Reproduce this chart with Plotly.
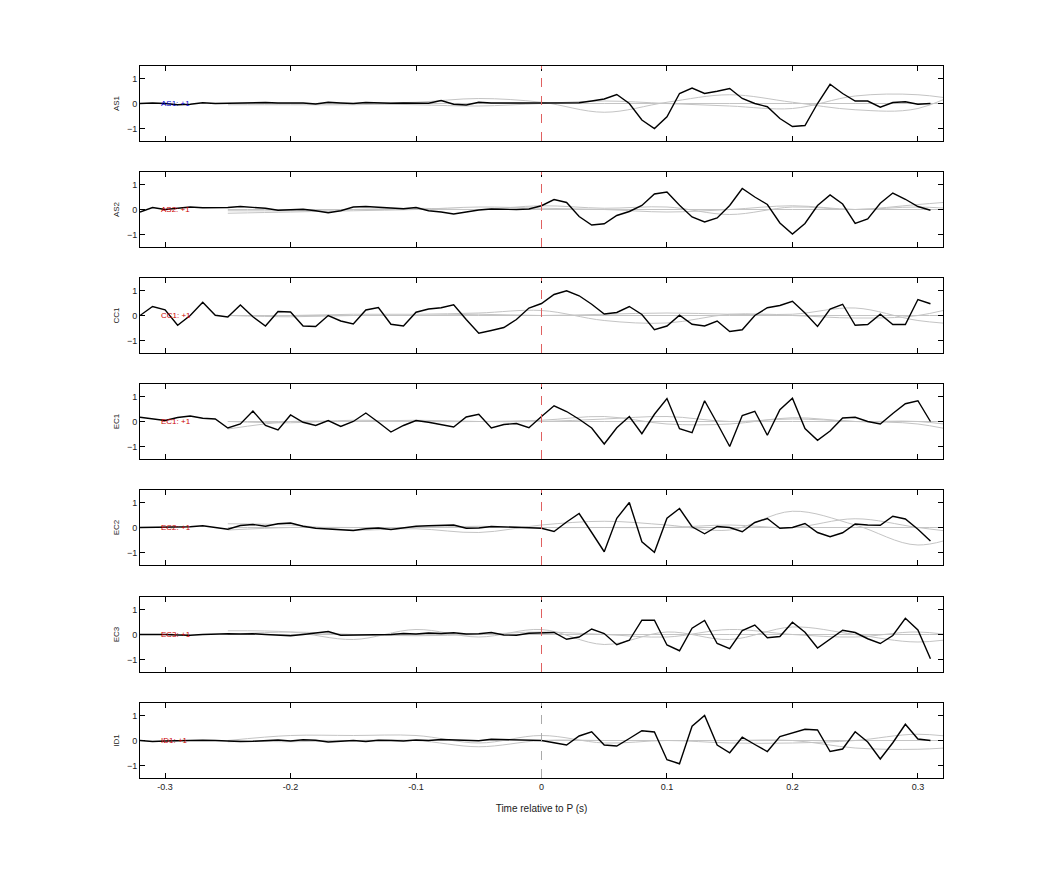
import plotly.graph_objects as go

t = [round(-0.32 + 0.01 * i, 2) for i in range(64)]
stations = ["AS1", "AS2", "CC1", "EC1", "EC2", "EC3", "ID1"]
label_colors = ["#0000cc", "#cc0000", "#cc0000", "#cc0000", "#cc0000", "#cc0000", "#cc0000"]

as1 = [0, 0.02, 0, -0.05, -0.03, 0.03, 0, 0.01, 0.03, 0.02, 0.04, 0.02, 0.03, 0.02, -0.02, 0.05, 0.02, 0.0, 0.04, 0.02,
       0.01, 0.02, 0.0, 0.01, 0.12, -0.03, -0.06, 0.05, 0.02, 0.01, 0.0, 0.02,
       0.02, 0.02, 0.03, 0.03, 0.1, 0.18, 0.36, 0.0, -0.66, -1.0, -0.53, 0.4, 0.62, 0.4, 0.49, 0.6, 0.2, 0.0, -0.13, -0.6,
       -0.92, -0.88, 0.0, 0.77, 0.4, 0.1, 0.1, -0.15, 0.04, 0.07, -0.03, 0.0][:64]
as2 = [-0.1, 0.08, 0.0, 0.05, 0.1, 0.07, 0.06, 0.08, 0.12, 0.1, 0.05, -0.03, 0.0, 0.01, -0.05, -0.13, -0.05, 0.1, 0.12,
       0.08, 0.05, 0.03, 0.08, -0.05, -0.1, -0.18, -0.1, -0.02, 0.02, 0.0, 0.0, 0.02,
       0.15, 0.4, 0.28, -0.28, -0.62, -0.57, -0.24, -0.08, 0.16, 0.62, 0.7, 0.17, -0.3, -0.5, -0.34, 0.16, 0.84, 0.5, 0.2,
       -0.54, -0.98, -0.56, 0.16, 0.58, 0.22, -0.56, -0.38, 0.25, 0.66, 0.41, 0.12, -0.03]
cc1 = [0.0, 0.36, 0.23, -0.39, 0.0, 0.53, 0.01, -0.06, 0.42, -0.05, -0.42, 0.16, 0.14, -0.42, -0.44, 0.0, -0.22, -0.34,
       0.22, 0.32, -0.35, -0.42, 0.13, 0.26, 0.31, 0.43, -0.16, -0.71, -0.6, -0.48, -0.16, 0.3,
       0.48, 0.84, 0.99, 0.79, 0.45, 0.06, 0.12, 0.36, 0.04, -0.57, -0.42, 0.01, -0.35, -0.42, -0.22, -0.64, -0.57, 0.0,
       0.31, 0.4, 0.57, 0.1, -0.44, 0.26, 0.45, -0.39, -0.36, 0.05, -0.36, -0.36, 0.64, 0.47]
ec1 = [0.17, 0.1, 0.04, 0.16, 0.22, 0.13, 0.1, -0.26, -0.1, 0.42, -0.16, -0.34, 0.26, -0.03, -0.16, 0.04, -0.2, 0.0,
       0.34, -0.03, -0.42, -0.16, 0.04, -0.03, -0.12, -0.22, 0.18, 0.29, -0.26, -0.12, -0.08, -0.25,
       0.2, 0.63, 0.4, 0.09, -0.26, -0.9, -0.25, 0.2, -0.49, 0.29, 0.92, -0.29, -0.45, 0.83, -0.07, -1.0, 0.24, 0.41, -0.55,
       0.47, 0.93, -0.28, -0.75, -0.38, 0.14, 0.17, 0.0, -0.1, 0.32, 0.71, 0.83, 0.0]
ec2 = [0.0, 0.0, 0.01, 0.0, 0.03, 0.07, 0.0, -0.07, 0.08, 0.12, 0.05, 0.15, 0.18, 0.05, -0.03, -0.05, -0.08, -0.12,
       -0.05, -0.02, -0.08, 0.0, 0.05, 0.07, 0.1, 0.1, -0.03, -0.02, 0.04, 0.03, 0.0, -0.01,
       -0.03, -0.16, 0.22, 0.56, -0.2, -0.97, 0.37, 1.0, -0.57, -0.99, 0.37, 0.76, 0.03, -0.25, 0.04, 0.0, -0.17, 0.2, 0.36,
       -0.03, 0.0, 0.16, -0.2, -0.37, -0.21, 0.14, 0.1, 0.09, 0.45, 0.34, -0.07, -0.54]
ec3 = [0.0, 0.01, 0.0, -0.02, -0.03, 0.0, 0.02, 0.03, 0.02, 0.03, 0.0, -0.04, -0.05, 0.0, 0.06, 0.12, -0.03, -0.02,
       0.0, 0.02, 0.0, 0.04, 0.02, 0.06, 0.04, 0.07, 0.02, 0.03, 0.08, -0.02, -0.03, 0.05,
       0.08, 0.08, -0.19, -0.1, 0.22, 0.04, -0.41, -0.23, 0.57, 0.57, -0.42, -0.65, 0.25, 0.56, -0.36, -0.57, 0.16, 0.38,
       -0.13, -0.08, 0.49, 0.09, -0.54, -0.18, 0.17, 0.08, -0.17, -0.36, -0.04, 0.65, 0.18, -0.97]
id1 = [0.0, -0.04, -0.02, 0.0, -0.01, 0.01, 0.0, -0.03, -0.04, -0.03, 0.0, 0.02, -0.02, 0.03, 0.01, -0.06, -0.03, 0.0,
       -0.04, 0.01, 0.0, -0.02, 0.02, 0.0, 0.04, 0.03, 0.0, -0.01, 0.05, 0.03, 0.02, 0.01,
       0.0, -0.09, -0.18, 0.18, 0.35, -0.18, -0.22, 0.08, 0.39, 0.34, -0.77, -0.93, 0.57, 1.0, -0.18, -0.49, 0.13, -0.16,
       -0.44, 0.16, 0.29, 0.45, 0.42, -0.44, -0.34, 0.35, -0.06, -0.74, -0.09, 0.65, 0.06, 0.0]
black = [as1, as2, cc1, ec1, ec2, ec3, id1]

# gray reference traces, coarse readings every 0.05 s (drawn smoothed)
tg = [-0.25, -0.2, -0.15, -0.1, -0.05, 0.0, 0.05, 0.1, 0.15, 0.2, 0.25, 0.3, 0.35]
gray = [
    [[0, 0, 0, 0.05, 0.2, 0.05, -0.35, 0.05, 0.35, 0.05, -0.25, -0.2, 0.9],
     [0, 0, 0, -0.05, -0.1, 0.0, 0.1, 0.0, -0.1, -0.2, 0.3, 0.35, 0.0],
     [-0.05, -0.05, -0.05, 0.0, 0.0, 0.0, 0.0, 0.0, 0.0, 0.0, 0.0, 0.0, 0.0]],
    [[-0.05, -0.05, 0.0, 0.05, 0.0, 0.15, 0.05, 0.1, -0.2, 0.1, 0.0, 0.2, 0.4],
     [-0.15, -0.1, -0.05, 0.0, 0.1, 0.05, 0.0, -0.1, 0.0, 0.15, 0.0, 0.1, -0.05],
     [0.0, 0.0, 0.0, 0.0, 0.0, 0.0, 0.0, 0.0, 0.0, 0.0, 0.0, 0.0, 0.0]],
    [[0, 0, 0.05, 0.05, 0.1, 0.2, -0.2, -0.3, 0.05, 0.05, 0.3, -0.2, -0.4],
     [0, -0.05, 0.0, 0.0, 0.05, 0.0, 0.05, 0.1, 0.05, 0.0, -0.1, 0.0, 0.6],
     [0.0, 0.0, 0.0, 0.0, 0.0, 0.0, 0.0, 0.0, 0.0, 0.0, 0.0, 0.0, 0.0]],
    [[-0.3, 0.0, 0.0, 0.05, 0.0, 0.0, 0.1, 0.2, 0.0, 0.1, 0.0, -0.1, -0.6],
     [0.0, -0.05, 0.05, 0.0, 0.0, 0.05, 0.2, -0.1, -0.1, 0.15, 0.0, 0.0, -0.3],
     [0.0, 0.0, 0.0, 0.0, 0.0, 0.0, 0.0, 0.0, 0.0, 0.0, 0.0, 0.0, 0.0]],
    [[0.15, 0.1, -0.1, -0.05, -0.2, 0.1, 0.25, 0.1, -0.1, 0.65, 0.1, -0.7, 0.0],
     [-0.1, 0.0, 0.0, 0.0, 0.05, 0.0, 0.0, 0.0, 0.1, 0.0, 0.35, 0.0, -0.3],
     [0.0, 0.0, 0.0, 0.0, 0.0, 0.0, 0.0, 0.0, 0.0, 0.0, 0.0, 0.0, 0.0]],
    [[0.15, 0.1, -0.2, 0.2, -0.1, 0.2, -0.4, 0.1, -0.2, 0.3, 0.0, -0.3, 0.0],
     [0.0, 0.1, 0.0, -0.05, 0.0, 0.1, 0.0, -0.1, 0.2, 0.0, -0.1, 0.1, -0.2],
     [0.0, 0.0, 0.0, 0.0, 0.0, 0.0, 0.0, 0.0, 0.0, 0.0, 0.0, 0.0, 0.0]],
    [[0.0, 0.2, 0.2, 0.2, -0.1, 0.2, -0.1, 0.0, -0.1, -0.1, 0.0, 0.25, 0.0],
     [0.0, -0.05, 0.0, 0.0, -0.25, 0.0, 0.0, 0.0, 0.0, 0.0, -0.3, -0.35, -0.2],
     [-0.05, 0.0, 0.0, 0.0, 0.0, 0.0, 0.0, 0.0, 0.0, 0.0, 0.0, 0.0, 0.0]],
]

W, H = 1026, 859   # page body margin of 8px offsets the figure
off = 8
tops = [66, 172, 278, 384, 490, 597, 703]
ph = 75

fig = go.Figure()
for i, st in enumerate(stations):
    ax = "" if i == 0 else str(i + 1)
    xa, ya = "x" + ax, "y" + ax
    for g in gray[i]:
        fig.add_trace(go.Scatter(x=tg, y=g, mode="lines", line=dict(color="#c4c4c4", width=1, shape="spline"),
                                 xaxis=xa, yaxis=ya, hoverinfo="skip", showlegend=False))
    fig.add_trace(go.Scatter(x=t, y=black[i], mode="lines", line=dict(color="black", width=1.4),
                             xaxis=xa, yaxis=ya, showlegend=False))
    fig.add_shape(type="line", x0=0, x1=0, y0=-1.5, y1=1.5, xref=xa, yref=ya,
                  line=dict(color="#e06060" if i < 6 else "#aaaaaa", width=1, dash="dash"))
    fig.add_annotation(x=-0.305, y=0, xref=xa, yref=ya, text=f"{st}: +1", showarrow=False,
                       xanchor="left", font=dict(size=8, color=label_colors[i]))
    d0 = 1 - (tops[i] - off + ph) / H
    d1 = 1 - (tops[i] - off) / H
    axis_common = dict(showline=True, linecolor="black", linewidth=1, mirror="allticks", ticks="inside",
                       ticklen=5, tickcolor="black", showgrid=False, zeroline=False,
                       tickfont=dict(size=9, color="#222"))
    fig.layout["xaxis" + ax] = dict(axis_common, domain=[(140 - off) / W, (943 - off) / W], range=[-0.32, 0.32],
                                    tickvals=[-0.3, -0.2, -0.1, 0, 0.1, 0.2, 0.3],
                                    ticktext=["-0.3", "-0.2", "-0.1", "0", "0.1", "0.2", "0.3"],
                                    showticklabels=(i == 6), anchor=ya,
                                    title=dict(text="Time relative to P (s)", font=dict(size=10, color="#222"),
                                               standoff=14) if i == 6 else None)
    fig.layout["yaxis" + ax] = dict(axis_common, domain=[d0, d1], range=[-1.5, 1.5], tickvals=[-1, 0, 1],
                                    anchor=xa, title=dict(text=st, font=dict(size=8, color="#222"), standoff=6))

fig.update_layout(width=W, height=H, margin=dict(l=0, r=0, t=0, b=0), plot_bgcolor="white",
                  paper_bgcolor="white", font=dict(family="Liberation Sans, Arial, sans-serif"))
fig.write_html("out.html")
